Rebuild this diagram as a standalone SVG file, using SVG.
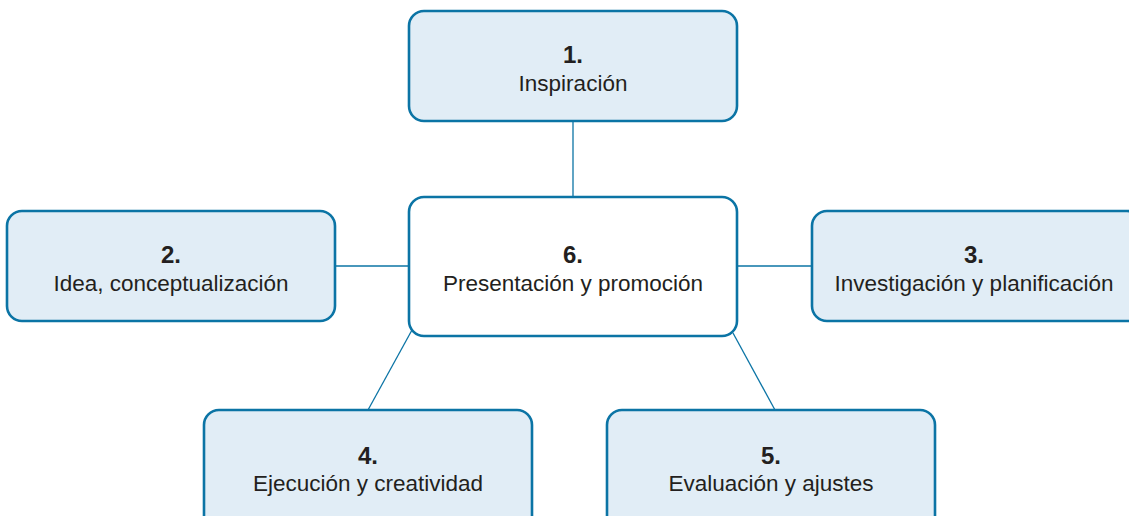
<svg xmlns="http://www.w3.org/2000/svg" width="1129" height="516" viewBox="0 0 1129 516">
<style>
.box{fill:#e1edf6;stroke:#0b74a5;stroke-width:2.6}
.center{fill:#ffffff;stroke:#0b74a5;stroke-width:2.6}
.con{stroke:#0b74a5;stroke-width:1.3;fill:none}
.num{font-family:"Liberation Sans",Arial,sans-serif;font-weight:bold;font-size:24px;fill:#231f20;text-anchor:middle}
.lbl{font-family:"Liberation Sans",Arial,sans-serif;font-size:22.5px;fill:#231f20;text-anchor:middle}
</style>
<rect width="1129" height="516" fill="#ffffff"/>
<g id="connectors">
<line class="con" x1="573" y1="121" x2="573" y2="197"/>
<line class="con" x1="335" y1="266" x2="409" y2="266"/>
<line class="con" x1="737" y1="266" x2="812" y2="266"/>
<line class="con" x1="412" y1="330" x2="368" y2="410"/>
<line class="con" x1="733" y1="333" x2="775" y2="410"/>
</g>
<g id="node1">
<rect class="box" x="409" y="11" width="328" height="110" rx="15"/>
<text class="num" x="573" y="63">1.</text>
<text class="lbl" x="573" y="91">Inspiración</text>
</g>
<g id="node2">
<rect class="box" x="7" y="211" width="328" height="110" rx="15"/>
<text class="num" x="171" y="263">2.</text>
<text class="lbl" x="171" y="291">Idea, conceptualización</text>
</g>
<g id="node3">
<rect class="box" x="812" y="211" width="330" height="110" rx="15"/>
<text class="num" x="974" y="263">3.</text>
<text class="lbl" x="974" y="291">Investigación y planificación</text>
</g>
<g id="node6">
<rect class="center" x="409" y="197" width="328" height="139" rx="15"/>
<text class="num" x="573" y="263">6.</text>
<text class="lbl" x="573" y="291">Presentación y promoción</text>
</g>
<g id="node4">
<rect class="box" x="204" y="410" width="328" height="125" rx="15"/>
<text class="num" x="368" y="464">4.</text>
<text class="lbl" x="368" y="491">Ejecución y creatividad</text>
</g>
<g id="node5">
<rect class="box" x="607" y="410" width="328" height="125" rx="15"/>
<text class="num" x="771" y="464">5.</text>
<text class="lbl" x="771" y="491">Evaluación y ajustes</text>
</g>
</svg>
